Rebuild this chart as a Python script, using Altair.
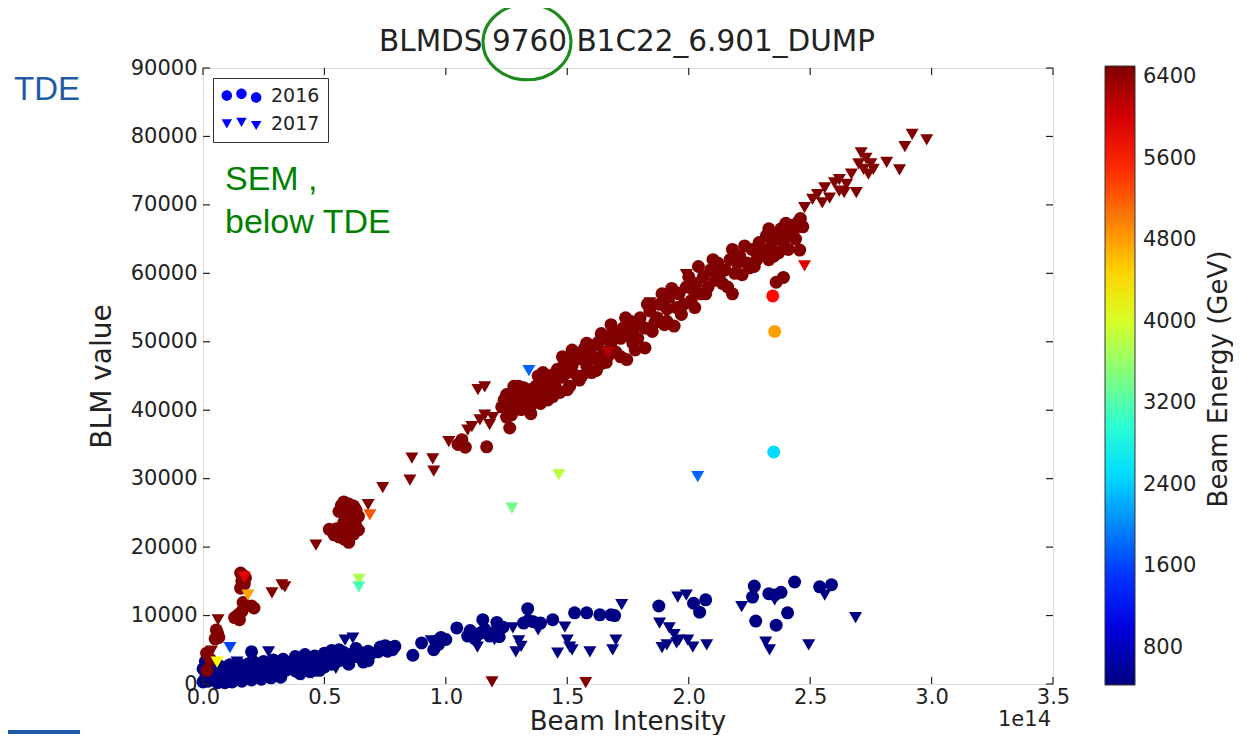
import altair as alt
import pandas as pd

# ---------------- data (beam intensity in units of 1e14) ----------------
E_HIGH = 6500   # 6.5 TeV dumps (dark red)
E_LOW = 450     # injection energy dumps (navy)

# 2016, high energy (circles)
UP16_X = [0.016, 0.015, 0.03, 0.05, 0.06, 0.065, 0.055, 0.13, 0.145, 0.15, 0.16, 0.165, 0.21, 0.2,
          0.155, 0.16, 0.165, 0.155, 0.17, 0.175,
          0.52, 0.54, 0.56, 0.58, 0.6, 0.62, 0.64, 0.55, 0.57, 0.59, 0.61, 0.63, 0.6, 0.58,
          0.56, 0.57, 0.58, 0.6, 0.62, 0.63, 0.59, 0.61, 0.6, 0.62, 0.64,
          1.05, 1.066, 1.08, 1.168,
          1.23, 1.24, 1.25, 1.26, 1.27, 1.28, 1.29, 1.3, 1.31, 1.33, 1.35, 1.32, 1.34, 1.263, 1.36, 1.3,
          1.37, 1.38, 1.39, 1.40, 1.41, 1.42, 1.43, 1.44, 1.45, 1.46, 1.47, 1.48, 1.49, 1.50, 1.51, 1.52,
          1.53, 1.54, 1.55, 1.56, 1.57, 1.58, 1.59, 1.60, 1.61, 1.62, 1.63, 1.64, 1.65, 1.66, 1.67, 1.68,
          1.69, 1.70, 1.72, 1.73, 1.745, 1.75, 1.76, 1.77, 1.78, 1.79, 1.80, 1.82, 1.82, 1.84, 1.85, 1.87,
          1.88, 1.90, 1.91, 1.92, 1.94, 1.95, 1.96, 1.98, 1.99, 2.01, 2.025, 2.03, 2.05, 2.06, 2.08, 2.09,
          2.11, 2.12, 2.14, 2.15, 2.17, 2.18, 2.19, 2.21, 2.22, 2.24, 2.25, 2.26, 2.28, 2.29, 2.31, 2.32,
          2.33, 2.34, 2.36, 2.37, 2.38, 2.39, 2.40, 2.41, 2.42, 2.43, 2.45, 2.47, 2.457, 2.36, 2.39,
          1.38, 1.40, 1.42, 1.44, 1.46, 1.48, 1.50, 1.52, 1.54, 1.56, 1.58, 1.60, 1.62, 1.64, 1.66, 1.68,
          1.70, 1.72, 1.74, 1.76, 1.78, 1.80, 1.83, 1.86, 1.89, 1.91, 1.93, 1.97, 2.00, 2.02, 2.04, 2.07,
          2.10, 2.13, 2.16, 2.18, 2.20, 2.23, 2.27, 2.30, 2.33, 2.35, 2.38, 2.41, 2.44, 2.46, 1.35, 1.25,
          1.28, 1.33]
UP16_Y = [2000, 4500, 3600, 6600, 7400, 6800, 7900, 9700, 10100, 9400, 10600, 11900, 11100, 11400,
          14000, 15000, 15900, 16200, 14600, 15500,
          22600, 21800, 21500, 21200, 21400, 21900, 22500, 22700, 22300, 22600, 22800, 23100, 20700, 23600,
          25200, 26100, 26600, 26300, 26000, 25400, 25000, 24600, 24000, 23900, 24500,
          35000, 35700, 34600, 34650,
          40500, 41500, 42300, 40200, 39300, 40800, 42000, 41200, 40100, 40400, 40700, 43300, 43000, 37400, 42000, 43500,
          43500, 45000, 41000, 43000, 44500, 41500, 42800, 45200, 43500, 46000, 42600, 44800, 47000, 45500, 43500, 46500,
          48000, 45000, 44400, 47500, 49000, 46500, 48000, 45500, 49500, 47500, 50000, 46800, 48500, 50500, 48000, 49800,
          51500, 48500, 50500, 52000, 47400, 51000, 53000, 49800, 52200, 50500, 53500, 49100, 52000, 54500, 51500, 53500,
          55500, 52500, 54800, 56500, 52300, 55000, 57000, 55500, 58000, 56000, 55000, 58500, 57000, 59500, 58000, 60500,
          59000, 61500, 58500, 60500, 62000, 57000, 60000, 62500, 59800, 61500, 60800, 63500, 62000, 64500, 63000, 65500,
          62000, 64000, 65500, 63000, 66500, 64500, 67300, 65500, 67000, 66000, 67500, 66800, 63400, 58700, 59400,
          42500, 45500, 44000, 42000, 44800, 47800, 43000, 48800, 47500, 45000, 49800, 48000, 45800, 51200, 47000, 52500,
          50800, 47800, 53500, 51500, 48800, 52500, 55500, 52800, 57000, 53000, 57800, 54000, 59500, 57500, 61000, 57000,
          62000, 60000, 58000, 63500, 61500, 64000, 61000, 63500, 66500, 62500, 65000, 63500, 65000, 68000, 39500, 39000,
          43500, 42000]

# 2017, high energy (triangles)
UP17_X = [0.062, 0.02, 0.035, 0.284, 0.325, 0.337, 0.465, 0.68, 0.74, 0.852, 0.86, 0.946, 0.95, 1.012,
          1.09, 1.107, 1.14, 1.16, 1.18, 1.193, 1.132, 1.16, 1.84, 1.95, 1.99,
          2.477, 2.51, 2.53, 2.55, 2.56, 2.58, 2.6, 2.62, 2.62, 2.64, 2.65, 2.67, 2.69, 2.7, 2.71, 2.72,
          2.73, 2.74, 2.75, 2.76, 2.815, 2.868, 2.89, 2.92, 2.98, 1.19, 1.576]
UP17_Y = [9360, 4000, 4800, 13300, 14500, 14200, 20300, 26200, 28700, 29800, 33000, 32900, 31100, 35400,
          37100, 37600, 38600, 39300, 37900, 38900, 43000, 43400, 55700, 57200, 59800,
          69600, 70800, 71500, 70300, 72500, 71000, 73200, 72000, 73700, 71800, 73000, 74500, 71800, 76000, 77600, 75200,
          76800, 74500, 76000, 75200, 76200, 75100, 78500, 80300, 79500, 300, 200]

# 2016, injection energy (circles)
LOW16_X = [0.00, 0.01, 0.02, 0.02, 0.03, 0.04, 0.04, 0.05, 0.06, 0.06, 0.07, 0.08, 0.09, 0.1, 0.11, 0.12,
           0.13, 0.14, 0.15, 0.16, 0.17, 0.18, 0.19, 0.2, 0.21, 0.22, 0.23, 0.24, 0.25, 0.26, 0.27, 0.28,
           0.29, 0.3, 0.31, 0.32, 0.33, 0.34, 0.35, 0.2, 0.0, 0.01,
           0.36, 0.37, 0.38, 0.39, 0.4, 0.41, 0.42, 0.43, 0.44, 0.45, 0.46, 0.47, 0.48,
           0.49, 0.5, 0.51, 0.52, 0.53, 0.54, 0.55, 0.56, 0.57, 0.58, 0.59, 0.6, 0.61, 0.62, 0.63, 0.64,
           0.65, 0.66, 0.67, 0.68, 0.69,
           0.72, 0.73, 0.74, 0.75, 0.76, 0.77, 0.78, 0.79,
           0.864, 0.9, 0.95, 0.96, 0.97, 0.98, 1.0, 1.045, 1.152, 1.09, 1.1, 1.12, 1.14, 1.16, 1.18, 1.2,
           1.22, 1.235, 1.21, 1.337, 1.32, 1.34, 1.36, 1.39, 1.44, 1.53, 1.58, 1.634, 1.68, 1.695,
           1.877, 2.02, 2.07, 2.045, 2.27, 2.263, 2.276, 2.33, 2.355, 2.38, 2.36, 2.407, 2.436, 2.539, 2.588,
           0.03, 0.05, 0.07, 0.09, 0.11, 0.13, 0.15, 0.17, 0.19, 0.21, 0.23, 0.25, 0.27, 0.29, 0.31, 0.33,
           0.12, 0.16, 0.2, 0.24, 0.28, 0.32, 0.06, 0.09,
           0.38, 0.42, 0.46, 0.4, 0.44, 0.48,
           0.5, 0.53, 0.56, 0.6, 0.63, 0.66, 0.68]
LOW16_Y = [300, 900, 1600, 400, 1100, 600, 2000, 1300, 500, 1800, 900, 1500, 600, 1200, 1900, 800,
           1400, 2000, 900, 1600, 2200, 1200, 1800, 1000, 2400, 1500, 2000, 1200, 2600, 1700, 2200, 1400,
           2500, 1900, 2800, 1600, 2300, 2000, 2600, 4700, 2200, 3300,
           2400, 3300, 1900, 2800, 3600, 2200, 3000, 3800, 2500, 3300, 2000, 3600, 2800,
           3900, 4500, 3300, 4100, 2900, 3700, 4300, 3400, 4000, 4600, 3600, 4200, 3800, 4500, 4000, 4700,
           4200, 4500, 4300, 4800, 4400,
           4700, 5400, 5000, 5600, 4800, 5300, 5000, 5500,
           4200, 6000, 5000, 6300, 5800, 6800, 6500, 8200, 9400, 7000, 7800, 6600, 7400, 8000, 7000, 7600,
           6900, 8300, 9000, 11000, 8900, 9300, 9100, 8900, 9400, 10400, 10400, 10100, 10100, 10000,
           11400, 11800, 12300, 10500, 14300, 12700, 9200, 13200, 13000, 13400, 8600, 10400, 14900, 14200, 14500,
           2600, 2300, 2600, 2200, 2800, 2500, 2900, 2700, 3000, 3200, 2800, 3300, 3000, 3500, 3200, 3600,
           300, 400, 600, 700, 900, 1000, 200, 200,
           4000, 4300, 4100, 1500, 1800, 2000,
           2500, 4900, 5000, 2900, 5200, 3200, 3400]

# 2017, injection energy (triangles)
LOW17_X = [0.14, 0.27, 0.45, 0.547, 0.585, 0.617, 0.08, 0.22, 0.3, 0.41, 0.94, 1.13, 1.2, 1.276, 1.288,
           1.3, 1.31, 1.38, 1.46, 1.49, 1.5, 1.51, 1.52, 1.593, 1.687, 1.70, 1.724, 1.88, 1.89, 1.91, 1.92,
           1.94, 1.95, 1.96, 1.955, 1.99, 1.996, 2.017, 2.074, 2.218, 2.317, 2.333, 2.354, 2.494, 2.56, 2.687]
LOW17_Y = [3200, 4700, 1600, 2300, 6400, 6700, 1800, 2600, 2800, 1300, 6300, 5400, 6500, 8200, 4700,
           6300, 5500, 7900, 4500, 8300, 6400, 5400, 5000, 4700, 5000, 6400, 11600, 8900, 5300, 5700, 8200,
           7200, 6000, 6400, 12700, 13000, 6400, 5400, 5700, 11300, 6100, 5000, 12300, 5700, 13000, 9700]

# dumps at intermediate energies
SPEC_X = [2.346, 2.354, 2.35, 2.477, 2.037, 1.342, 1.465, 1.272, 0.687, 0.642, 0.642, 0.185, 0.17, 0.111, 0.058, 1.667]
SPEC_Y = [56700, 51500, 33900, 61100, 30300, 45800, 30600, 25700, 24700, 15300, 14200, 13000, 15600, 5300, 3200, 48400]
SPEC_E = [5700, 4800, 2500, 5950, 1800, 1780, 3850, 3400, 5250, 3750, 3150, 4780, 5900, 1600, 4250, 6200]
SPEC_YEAR = ["2016", "2016", "2016", "2017", "2017", "2017", "2017", "2017", "2017", "2017", "2017",
             "2017", "2017", "2017", "2017", "2017"]

X_TICKS = [0.0, 0.5, 1.0, 1.5, 2.0, 2.5, 3.0, 3.5]
Y_TICKS = [0, 10000, 20000, 30000, 40000, 50000, 60000, 70000, 80000, 90000]
CBAR_TICKS = [800, 1600, 2400, 3200, 4000, 4800, 5600, 6400]

# jet colormap stops
JET_DOMAIN = [435, 1194, 1954, 2713, 3472, 4232, 4991, 5751, 6510]
JET_RANGE = ["#00007f", "#0000ff", "#007fff", "#00ffff", "#7fff7f", "#ffff00", "#ff7f00", "#ff0000", "#7f0000"]

# ---------------- build table ----------------
rows = []
for xs, ys, e, yr in [(LOW16_X, LOW16_Y, E_LOW, "2016"), (LOW17_X, LOW17_Y, E_LOW, "2017"),
                      (UP16_X, UP16_Y, E_HIGH, "2016"), (UP17_X, UP17_Y, E_HIGH, "2017")]:
    for x, y in zip(xs, ys):
        rows.append({"x": x, "y": y, "energy": e, "year": yr})
for x, y, e, yr in zip(SPEC_X, SPEC_Y, SPEC_E, SPEC_YEAR):
    rows.append({"x": x, "y": y, "energy": e, "year": yr})
df = pd.DataFrame(rows)

W, H = 850, 616
FONT = "DejaVu Sans"
INK = "#222222"
MSIZE = 169

xscale = alt.Scale(domain=[0, 3.5], nice=False, zero=False)
yscale = alt.Scale(domain=[0, 90000], nice=False)
cscale = alt.Scale(domain=JET_DOMAIN, range=JET_RANGE, interpolate="rgb")

xaxis = alt.Axis(values=X_TICKS, format=".1f", title=None, labelFontSize=21,
                 labelFont=FONT, labelColor=INK, labelPadding=2,
                 ticks=False, domain=False, grid=False, labelFlush=False)
yaxis = alt.Axis(values=Y_TICKS, format="d", title="BLM value", labelFontSize=21,
                 labelFont=FONT, labelColor=INK, titleFont=FONT, titleFontSize=28,
                 titleFontWeight="normal", titleColor=INK, titlePadding=14, labelPadding=6,
                 ticks=False, domain=False, grid=False, labelFlush=False)

cbar_legend = alt.Legend(title=None, orient="none", legendX=902, legendY=-2, direction="vertical",
                         gradientLength=619, gradientThickness=30, values=CBAR_TICKS, format="d",
                         labelFontSize=21, labelFont=FONT, labelColor=INK, labelOffset=8,
                         labelOverlap=False, gradientStrokeColor="#333333", gradientStrokeWidth=1)

d16 = df[df.year == "2016"]
d17 = df[df.year == "2017"]

circles = alt.Chart(d16).mark_point(shape="circle", filled=True, size=MSIZE, opacity=1, strokeWidth=0).encode(
    x=alt.X("x:Q", scale=xscale, axis=xaxis),
    y=alt.Y("y:Q", scale=yscale, axis=yaxis),
    color=alt.Color("energy:Q", scale=cscale, legend=cbar_legend),
)
triangles = alt.Chart(d17).mark_point(shape="triangle-down", filled=True, size=MSIZE, opacity=1, strokeWidth=0).encode(
    x=alt.X("x:Q", scale=xscale, axis=xaxis),
    y=alt.Y("y:Q", scale=yscale, axis=yaxis),
    color=alt.Color("energy:Q", scale=cscale, legend=cbar_legend),
)

# legend for the years, drawn by Vega's legend with three-marker symbols
CIRC3 = ("M -3.8 0 A 1 1 0 1 0 -1.8 0 A 1 1 0 1 0 -3.8 0 Z "
         "M -1 -0.35 A 1 1 0 1 0 1 -0.35 A 1 1 0 1 0 -1 -0.35 Z "
         "M 1.8 0.4 A 1 1 0 1 0 3.8 0.4 A 1 1 0 1 0 1.8 0.4 Z")
TRI3 = ("M -3.8 -0.8 L -1.8 -0.8 L -2.8 0.95 Z "
        "M -1 -1.1 L 1 -1.1 L 0 0.65 Z "
        "M 1.8 -0.5 L 3.8 -0.5 L 2.8 1.25 Z")
year_df = pd.DataFrame({"Year": ["2016", "2017"]})
year_legend = alt.Chart(year_df).mark_point(filled=True, opacity=0, size=110, color="#0000ff").encode(
    x=alt.value(0), y=alt.value(0),
    shape=alt.Shape("Year:N", scale=alt.Scale(domain=["2016", "2017"], range=[CIRC3, TRI3]),
                    legend=alt.Legend(title=None, orient="none", legendX=10, legendY=10, direction="vertical",
                                      padding=8, strokeColor="#333333", fillColor="white", cornerRadius=0,
                                      labelFontSize=19, labelFont=FONT, labelColor=INK, labelOffset=20,
                                      symbolOffset=11, symbolSize=110, symbolFillColor="#0000ff",
                                      symbolStrokeColor="#0000ff", symbolStrokeWidth=0, symbolOpacity=1,
                                      rowPadding=8)),
)

# inward ticks on all four sides (share the axes so they merge)
xt = pd.DataFrame({"x": X_TICKS})
yt = pd.DataFrame({"y": Y_TICKS})
tick_style = dict(color=INK, strokeWidth=1.2)
xt_bot = alt.Chart(xt).mark_rule(**tick_style).encode(
    x=alt.X("x:Q", scale=xscale, axis=xaxis), y=alt.value(H), y2=alt.value(H - 7))
xt_top = alt.Chart(xt).mark_rule(**tick_style).encode(
    x=alt.X("x:Q", scale=xscale, axis=xaxis), y=alt.value(0), y2=alt.value(7))
yt_left = alt.Chart(yt).mark_rule(**tick_style).encode(
    y=alt.Y("y:Q", scale=yscale, axis=yaxis), x=alt.value(0), x2=alt.value(7))
yt_right = alt.Chart(yt).mark_rule(**tick_style).encode(
    y=alt.Y("y:Q", scale=yscale, axis=yaxis), x=alt.value(W), x2=alt.value(W - 7))

one = pd.DataFrame({"a": [0]})


def label(text, x, y, size, color=INK, font=FONT, align="center", baseline="middle", angle=0):
    kw = dict(text=text, fontSize=size, color=color, font=font, align=align, baseline=baseline)
    if angle:
        kw["angle"] = angle
    return alt.Chart(one).mark_text(**kw).encode(x=alt.value(x), y=alt.value(y))


title = label("BLMDS 9760 B1C22_6.901_DUMP", 424, -26, 29.5)
xtitle = label("Beam Intensity", 425, 662, 26, baseline="alphabetic")
offset_txt = label("1e14", 848, 652, 21, align="right")
cbar_title = label("Beam Energy (GeV)", 1016, 311, 26, angle=270)
tde = label("TDE", -156, 22, 33, color="#1f5aa8", font="Liberation Sans")
sem1 = label("SEM ,", 22, 122, 34, color="#008000", font="Liberation Sans", align="left", baseline="alphabetic")
sem2 = label("below TDE", 22, 165, 34, color="#008000", font="Liberation Sans", align="left", baseline="alphabetic")

ELLIPSE = "M -1 0 A 1 0.86 0 1 0 1 0 A 1 0.86 0 1 0 -1 0 Z"
ellipse = alt.Chart(one).mark_point(shape=ELLIPSE, filled=False, size=7744, color="#1e8a1e",
                                    strokeWidth=3, opacity=1).encode(x=alt.value(324), y=alt.value(-26))

blue_bar = alt.Chart(one).mark_rule(color="#1f5aa8", strokeWidth=4).encode(
    x=alt.value(-195), x2=alt.value(-123), y=alt.value(664))

chart = alt.layer(
    circles, triangles, year_legend,
    xt_bot, xt_top, yt_left, yt_right,
    title, xtitle, offset_txt, cbar_title, tde, sem1, sem2, ellipse, blue_bar,
).resolve_scale(
    shape="independent"
).properties(
    width=W, height=H,
    autosize=alt.AutoSizeParams(type="none"),
    padding={"left": 195, "top": 60, "right": 180, "bottom": 51},
).configure_view(
    stroke="#222222", strokeWidth=1.5
).configure(
    background="white"
)

chart.save("out.html", embed_options={"renderer": "svg", "actions": False})
